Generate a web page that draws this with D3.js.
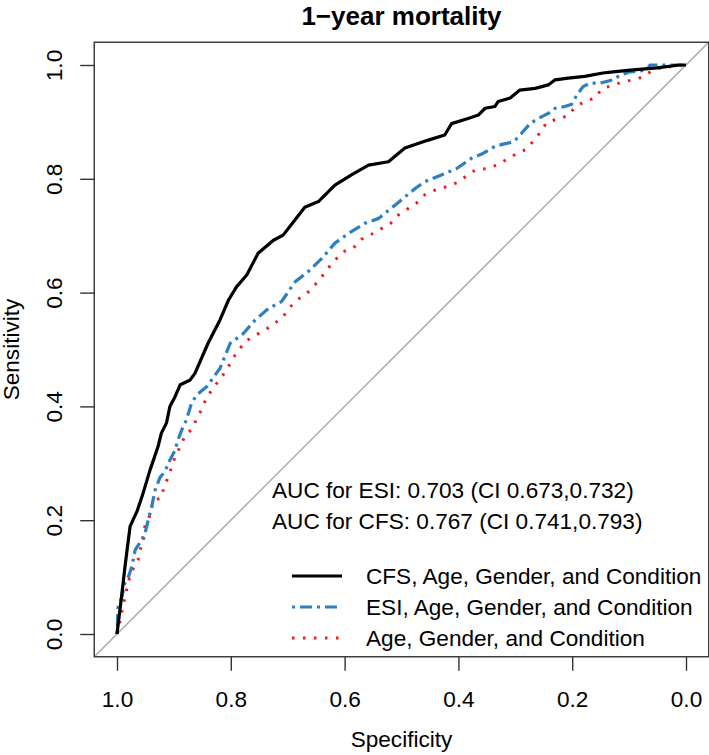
<!DOCTYPE html>
<html>
<head>
<meta charset="utf-8">
<script src="https://cdn.jsdelivr.net/npm/d3@7"></script>
<style>
  html, body { margin: 0; padding: 0; background: #fff; }
  text { font-family: "Liberation Sans", Arial, Helvetica, sans-serif; }
</style>
</head>
<body>
<svg id="chart" width="709" height="755"></svg>
<script>
// ---- Data (1 - specificity = false positive rate, sensitivity) ----
const title = "1\u2212year mortality";
const xLabel = "Specificity";
const yLabel = "Sensitivity";
const tickValues = [1.0, 0.8, 0.6, 0.4, 0.2, 0.0];
const aucTexts = [
  "AUC for ESI: 0.703 (CI 0.673,0.732)",
  "AUC for CFS: 0.767 (CI 0.741,0.793)"
];
const seriesNames = [
  "CFS, Age, Gender, and Condition",
  "ESI, Age, Gender, and Condition",
  "Age, Gender, and Condition"
];

const cfsFpr = [0,.008,.014,.017,.023,.028,.035,.046,.058,.072,.078,.087,.093,.102,.111,.128,.137,.160,.181,.196,.210,.228,.248,.275,.292,.313,.330,.354,.383,.412,.442,.477,.506,.547,.576,.588,.617,.635,.647,.664,.670,.691,.708,.735,.758,.770,.793,.822,.854,.872,.902,.949,.989,1];
const cfsSens = [0,.066,.118,.142,.189,.200,.215,.248,.288,.329,.353,.371,.400,.417,.438,.446,.458,.511,.552,.587,.610,.631,.669,.692,.701,.728,.750,.760,.789,.807,.824,.830,.854,.868,.877,.897,.906,.912,.924,.927,.936,.942,.956,.959,.965,.974,.977,.980,.986,.988,.991,.995,1.0,1];

const esiFpr = [0,.002,.008,.014,.020,.026,.032,.040,.046,.055,.061,.067,.076,.084,.093,.102,.107,.116,.122,.131,.140,.158,.181,.199,.222,.243,.266,.289,.313,.336,.360,.383,.407,.436,.459,.489,.524,.541,.571,.597,.623,.644,.664,.679,.697,.711,.726,.740,.758,.770,.787,.799,.808,.819,.831,.849,.872,.884,.902,.931,.937,1];
const esiSens = [0,.048,.063,.090,.100,.118,.148,.160,.165,.200,.224,.253,.276,.285,.306,.323,.341,.364,.376,.406,.420,.435,.467,.511,.528,.552,.572,.584,.619,.637,.660,.687,.704,.722,.730,.754,.783,.795,.807,.818,.836,.845,.857,.861,.865,.880,.897,.906,.915,.924,.927,.931,.947,.962,.968,.968,.974,.982,.988,.991,1.0,1];

const baseFpr = [0,.004,.008,.016,.021,.027,.037,.041,.049,.058,.064,.078,.082,.090,.102,.111,.120,.131,.141,.150,.157,.169,.193,.202,.225,.243,.260,.275,.290,.302,.316,.332,.345,.360,.371,.383,.398,.415,.430,.448,.464,.481,.494,.512,.527,.541,.559,.579,.597,.629,.650,.667,.685,.702,.720,.733,.745,.755,.774,.793,.805,.822,.840,.852,.870,.888,.907,.924,.942,.960,.981,1];
const baseSens = [0,.016,.037,.074,.095,.112,.130,.148,.189,.209,.235,.239,.256,.276,.311,.329,.350,.359,.380,.397,.415,.432,.464,.482,.514,.525,.534,.545,.555,.572,.587,.597,.610,.628,.643,.657,.672,.678,.694,.703,.712,.722,.736,.748,.758,.772,.780,.786,.793,.815,.818,.824,.834,.844,.852,.868,.883,.899,.905,.911,.926,.936,.942,.958,.964,.970,.974,.979,.991,.996,.998,1];

// ---- Layout ----
const svg = d3.select("#chart");
const unit = 569;
const plotLeft = 117 - 0.04 * unit, plotTop = 65 - 0.04 * unit;
const side = 1.08 * unit;
const fs = 22.6;

const x = d3.scaleLinear().domain([1.04, -0.04]).range([plotLeft, plotLeft + side]);
const y = d3.scaleLinear().domain([-0.04, 1.04]).range([plotTop + side, plotTop]);

const series = [
  { name: seriesNames[0], fpr: cfsFpr, sens: cfsSens, color: "#000000", width: 3.2, dash: null },
  { name: seriesNames[1], fpr: esiFpr, sens: esiSens, color: "#2c7fc0", width: 3.2, dash: "3,5,12,5" },
  { name: seriesNames[2], fpr: baseFpr, sens: baseSens, color: "#f0191e", width: 3, dash: "2.5,8.5" }
];

// clip
svg.append("defs").append("clipPath").attr("id", "clip")
  .append("rect").attr("x", plotLeft).attr("y", plotTop).attr("width", side).attr("height", side);

// diagonal reference line
svg.append("line")
  .attr("clip-path", "url(#clip)")
  .attr("x1", x(1.04)).attr("y1", y(-0.04))
  .attr("x2", x(-0.04)).attr("y2", y(1.04))
  .attr("stroke", "#a9a9a9").attr("stroke-width", 1.5);

// curves
const line = d3.line().x(d => x(d[0])).y(d => y(d[1]));
series.slice().reverse().forEach(s => {
  const pts = s.fpr.map((f, i) => [1 - f, s.sens[i]]);
  svg.append("path")
    .attr("d", line(pts))
    .attr("fill", "none")
    .attr("stroke", s.color)
    .attr("stroke-width", s.width)
    .attr("stroke-linejoin", "round")
    .attr("stroke-dasharray", s.dash);
});

// box
svg.append("rect")
  .attr("x", plotLeft).attr("y", plotTop).attr("width", side).attr("height", side)
  .attr("fill", "none").attr("stroke", "#333").attr("stroke-width", 1.4);

// x axis
const xAxis = svg.append("g")
  .attr("transform", `translate(0,${plotTop + side})`)
  .call(d3.axisBottom(x).tickValues(tickValues).tickFormat(d3.format(".1f")).tickSize(14));
xAxis.select(".domain").remove();
xAxis.selectAll(".tick line").attr("stroke", "#333").attr("stroke-width", 1.4);
xAxis.selectAll(".tick text")
  .attr("y", 50).attr("dy", null)
  .attr("font-size", fs).attr("fill", "#000")
  .style("font-family", '"Liberation Sans", Arial, sans-serif');

// y axis
const yAxis = svg.append("g")
  .attr("transform", `translate(${plotLeft},0)`)
  .call(d3.axisLeft(y).tickValues(tickValues).tickFormat(d3.format(".1f")).tickSize(14));
yAxis.select(".domain").remove();
yAxis.selectAll(".tick line").attr("stroke", "#333").attr("stroke-width", 1.4);
yAxis.selectAll(".tick text")
  .attr("x", 0).attr("y", 0).attr("dy", null)
  .attr("transform", "translate(-32,0) rotate(-90)")
  .attr("text-anchor", "middle")
  .attr("font-size", fs).attr("fill", "#000")
  .style("font-family", '"Liberation Sans", Arial, sans-serif');

// axis titles
svg.append("text")
  .attr("x", plotLeft + side / 2).attr("y", 747)
  .attr("text-anchor", "middle").attr("font-size", fs)
  .text(xLabel);
svg.append("text")
  .attr("transform", `translate(19,${plotTop + side / 2}) rotate(-90)`)
  .attr("text-anchor", "middle").attr("font-size", fs)
  .text(yLabel);

// title
svg.append("text")
  .attr("x", plotLeft + side / 2).attr("y", 25)
  .attr("text-anchor", "middle").attr("font-size", 26).attr("font-weight", "bold")
  .text(title);

// AUC annotations
aucTexts.forEach((t, i) => {
  svg.append("text")
    .attr("x", 272).attr("y", 498 + i * 31)
    .attr("font-size", fs)
    .text(t);
});

// legend
series.forEach((s, i) => {
  const cy = 576 + i * 31;
  svg.append("line")
    .attr("x1", 292).attr("x2", 342).attr("y1", cy).attr("y2", cy)
    .attr("stroke", s.color).attr("stroke-width", s.width)
    .attr("stroke-dasharray", s.dash);
  svg.append("text")
    .attr("x", 366).attr("y", cy + 7.5)
    .attr("font-size", fs)
    .text(s.name);
});
</script>
</body>
</html>
